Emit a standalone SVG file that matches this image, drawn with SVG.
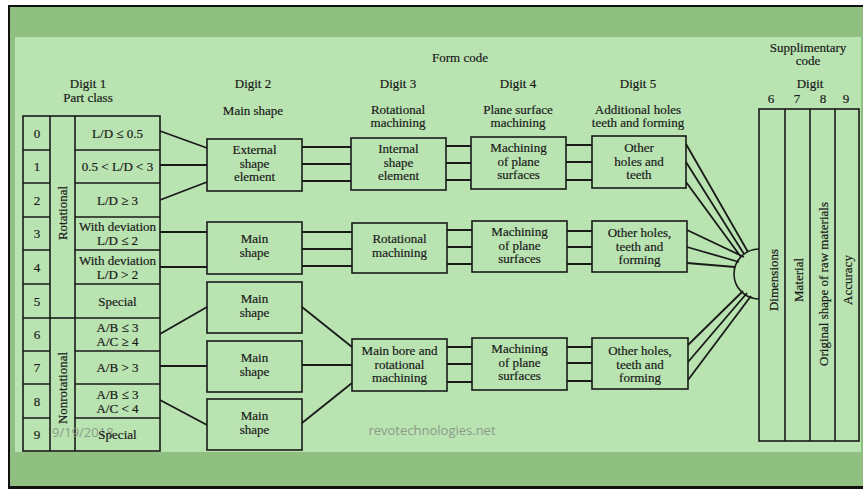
<svg xmlns="http://www.w3.org/2000/svg" width="863" height="489" viewBox="0 0 863 489">
<style>
  .t { font-family: "Liberation Serif", "Times New Roman", serif; font-size: 13px; fill: #1a1a1a; stroke: #1a1a1a; stroke-width: 0.2; text-anchor: middle; }
  .box { fill: none; stroke: #1a1a1a; stroke-width: 1.6; }
  .ln { fill: none; stroke: #1a1a1a; stroke-width: 1.8; }
  .wm { font-family: "Open Sans", "Liberation Sans", sans-serif; font-size: 13px; fill: #8a9a88; }
</style>
<!-- slide frame -->
<rect x="0" y="0" width="863" height="489" fill="#ffffff"/>
<rect x="8" y="5" width="855" height="484" fill="#111111"/>
<rect x="10" y="7" width="853" height="479" fill="#90bf82"/>
<rect x="15" y="37" width="846" height="415" fill="#b9e4b1"/>

<!-- headers -->
<g id="headers">
  <text class="t" x="460" y="62">Form code</text>
  <text class="t" x="88" y="88">Digit 1</text>
  <text class="t" x="88" y="102">Part class</text>
  <text class="t" x="253" y="88">Digit 2</text>
  <text class="t" x="253" y="115">Main shape</text>
  <text class="t" x="398" y="88">Digit 3</text>
  <text class="t" x="398" y="114">Rotational</text>
  <text class="t" x="398" y="127">machining</text>
  <text class="t" x="518" y="88">Digit 4</text>
  <text class="t" x="518" y="114">Plane surface</text>
  <text class="t" x="518" y="127">machining</text>
  <text class="t" x="638" y="88">Digit 5</text>
  <text class="t" x="638" y="114">Additional holes</text>
  <text class="t" x="638" y="127">teeth and forming</text>
  <text class="t" x="808" y="52">Supplimentary</text>
  <text class="t" x="808" y="65">code</text>
  <text class="t" x="810" y="88">Digit</text>
  <text class="t" x="771" y="103">6</text>
  <text class="t" x="797" y="103">7</text>
  <text class="t" x="823" y="103">8</text>
  <text class="t" x="846" y="103">9</text>
</g>

<!-- Digit 1 table -->
<g id="digit1-table">
  <rect class="box" x="23" y="116" width="137" height="335"/>
  <line class="box" x1="50" y1="116" x2="50" y2="451"/>
  <line class="box" x1="75" y1="116" x2="75" y2="451"/>
  <line class="box" x1="50" y1="318" x2="75" y2="318"/>
  <path class="box" d="M23 150H50M75 150H160M23 183H50M75 183H160M23 217H50M75 217H160M23 250H50M75 250H160M23 284H50M75 284H160M23 318H50M75 318H160M23 351H50M75 351H160M23 384H50M75 384H160M23 418H50M75 418H160"/>
  <text class="t" transform="translate(66.5,213) rotate(-90)">Rotational</text>
  <text class="t" transform="translate(66.5,388) rotate(-90)">Nonrotational</text>
</g>
<g id="row0"><text class="t" x="37" y="137.5">0</text><text class="t" x="117.5" y="137.5">L/D ≤ 0.5</text></g>
<g id="row1"><text class="t" x="37" y="171">1</text><text class="t" x="117.5" y="171">0.5 &lt; L/D &lt; 3</text></g>
<g id="row2"><text class="t" x="37" y="204.5">2</text><text class="t" x="117.5" y="204.5">L/D ≥ 3</text></g>
<g id="row3"><text class="t" x="37" y="238">3</text><text class="t" x="117.5" y="231">With deviation</text><text class="t" x="117.5" y="245">L/D ≤ 2</text></g>
<g id="row4"><text class="t" x="37" y="271.5">4</text><text class="t" x="117.5" y="265">With deviation</text><text class="t" x="117.5" y="279">L/D &gt; 2</text></g>
<g id="row5"><text class="t" x="37" y="305.5">5</text><text class="t" x="117.5" y="305.5">Special</text></g>
<g id="row6"><text class="t" x="37" y="339">6</text><text class="t" x="117.5" y="332">A/B ≤ 3</text><text class="t" x="117.5" y="346">A/C ≥ 4</text></g>
<g id="row7"><text class="t" x="37" y="372">7</text><text class="t" x="117.5" y="372">A/B &gt; 3</text></g>
<g id="row8"><text class="t" x="37" y="405.5">8</text><text class="t" x="117.5" y="399">A/B ≤ 3</text><text class="t" x="117.5" y="413">A/C &lt; 4</text></g>
<g id="row9"><text class="t" x="37" y="439">9</text><text class="wm" x="52" y="437">9/19/2018</text><text class="t" x="117.5" y="439">Special</text></g>

<!-- Digit 2 boxes -->
<g id="d2-external"><rect class="box" x="207" y="139" width="95" height="52"/><text class="t" x="254.5" y="154">External</text><text class="t" x="254.5" y="168">shape</text><text class="t" x="254.5" y="181">element</text></g>
<g id="d2-main1"><rect class="box" x="207" y="222" width="95" height="52"/><text class="t" x="254.5" y="243">Main</text><text class="t" x="254.5" y="257">shape</text></g>
<g id="d2-main2"><rect class="box" x="207" y="282" width="95" height="51"/><text class="t" x="254.5" y="302.5">Main</text><text class="t" x="254.5" y="316.5">shape</text></g>
<g id="d2-main3"><rect class="box" x="207" y="341" width="95" height="51"/><text class="t" x="254.5" y="361.5">Main</text><text class="t" x="254.5" y="375.5">shape</text></g>
<g id="d2-main4"><rect class="box" x="207" y="399" width="95" height="51"/><text class="t" x="254.5" y="419.5">Main</text><text class="t" x="254.5" y="433.5">shape</text></g>

<!-- Digit 3 boxes -->
<g id="d3-internal"><rect class="box" x="351" y="138" width="95" height="52"/><text class="t" x="398.5" y="153">Internal</text><text class="t" x="398.5" y="166.5">shape</text><text class="t" x="398.5" y="180">element</text></g>
<g id="d3-rotational"><rect class="box" x="352" y="223" width="95" height="50"/><text class="t" x="399.5" y="243">Rotational</text><text class="t" x="399.5" y="256.5">machining</text></g>
<g id="d3-mainbore"><rect class="box" x="352" y="339" width="95" height="52"/><text class="t" x="399.5" y="355">Main bore and</text><text class="t" x="399.5" y="368.5">rotational</text><text class="t" x="399.5" y="382">machining</text></g>

<!-- Digit 4 boxes -->
<g id="d4-plane1"><rect class="box" x="471" y="137" width="95" height="52"/><text class="t" x="518.5" y="152">Machining</text><text class="t" x="518.5" y="165.5">of plane</text><text class="t" x="518.5" y="179">surfaces</text></g>
<g id="d4-plane2"><rect class="box" x="472" y="221" width="95" height="51"/><text class="t" x="519.5" y="236">Machining</text><text class="t" x="519.5" y="249.5">of plane</text><text class="t" x="519.5" y="263">surfaces</text></g>
<g id="d4-plane3"><rect class="box" x="472" y="338" width="95" height="52"/><text class="t" x="519.5" y="353">Machining</text><text class="t" x="519.5" y="366.5">of plane</text><text class="t" x="519.5" y="380">surfaces</text></g>

<!-- Digit 5 boxes -->
<g id="d5-holes1"><rect class="box" x="592" y="136" width="94" height="52"/><text class="t" x="639" y="152">Other</text><text class="t" x="639" y="165.5">holes and</text><text class="t" x="639" y="179">teeth</text></g>
<g id="d5-holes2"><rect class="box" x="592" y="221" width="95" height="51"/><text class="t" x="639.5" y="237">Other holes,</text><text class="t" x="639.5" y="250.5">teeth and</text><text class="t" x="639.5" y="264">forming</text></g>
<g id="d5-holes3"><rect class="box" x="592" y="338" width="96" height="51"/><text class="t" x="640" y="355">Other holes,</text><text class="t" x="640" y="368.5">teeth and</text><text class="t" x="640" y="382">forming</text></g>

<!-- Supplementary table -->
<g id="supp-table">
  <rect class="box" x="759" y="109" width="100" height="332"/>
  <path class="box" d="M785 109V441M810 109V441M835 109V441"/>
  <path class="box" d="M759 249A25 25 0 0 0 759 299"/>
  <text class="t" transform="translate(777.5,280) rotate(-90)">Dimensions</text>
  <text class="t" transform="translate(802.5,280) rotate(-90)">Material</text>
  <text class="t" transform="translate(827.5,284) rotate(-90)">Original shape of raw materials</text>
  <text class="t" transform="translate(851.5,280) rotate(-90)">Accuracy</text>
</g>

<!-- connectors -->
<g id="connectors">
  <path class="ln" d="M160 131L207 148M160 165H207M160 200L207 182M160 232H207M160 267H207M160 334L207 307M160 366H207M160 400L207 425"/>
  <path class="ln" d="M302 147H351M302 164H351M302 181H351M302 232H352M302 249H352M302 266H352M302 307L352 347M302 365H352M302 423L352 383"/>
  <path class="ln" d="M446 146H471M446 163H471M446 180H471M447 230H472M447 247H472M447 264H472M447 347H472M447 364H472M447 382H472"/>
  <path class="ln" d="M566 145H592M566 162H592M566 180H592M567 231H592M567 247H592M567 264H592M567 347H592M567 363H592M567 381H592"/>
  <path class="ln" d="M686 144L748 252M686 162L744 254M686 182L741 257M687 230L744 257M687 247L739 262M687 263L735 267M688 345L743 291M688 362L747 293M688 380L751 296"/>
</g>

<text class="wm" x="432" y="435" text-anchor="middle">revotechnologies.net</text>
</svg>
